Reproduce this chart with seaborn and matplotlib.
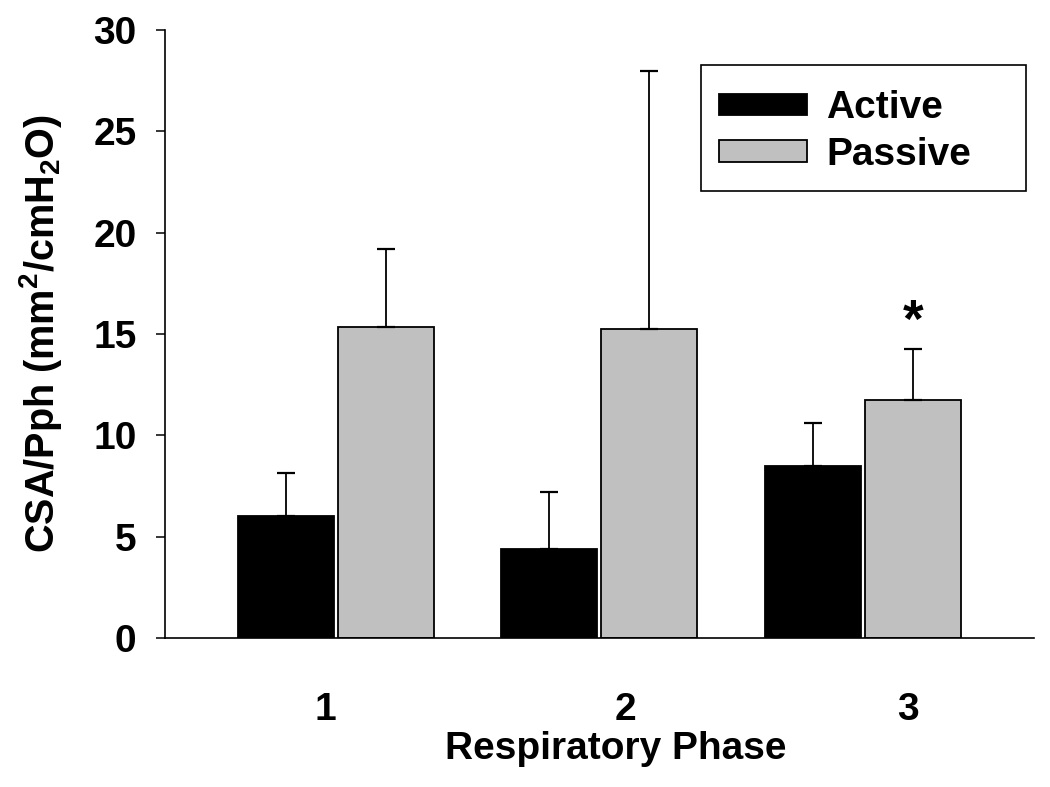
import matplotlib
matplotlib.use("Agg")
import matplotlib.pyplot as plt
import seaborn as sns
import pandas as pd
import numpy as np
from matplotlib.patches import Rectangle

phases = ["1", "2", "3"]
groups = ["Active", "Passive"]
active_mean = [6.03, 4.39, 8.50]
passive_mean = [15.33, 15.25, 11.76]
active_err = [2.13, 2.79, 2.09]
passive_err = [3.86, 12.73, 2.50]
tick_labels = ["1", "2", "3"]
tick_pos = [-0.04, 1.10, 2.17]
star_phase = 2

df = pd.DataFrame({
    "Phase": phases * 2,
    "Group": ["Active"] * 3 + ["Passive"] * 3,
    "Value": active_mean + passive_mean,
})

sns.set_theme(style="ticks")
plt.rcParams["font.family"] = ["Liberation Sans", "DejaVu Sans"]
plt.rcParams["font.weight"] = "bold"
plt.rcParams["mathtext.fontset"] = "custom"
plt.rcParams["mathtext.rm"] = "Liberation Sans:bold"
plt.rcParams["mathtext.default"] = "rm"
for k in ["text.color", "axes.labelcolor", "xtick.color", "ytick.color", "axes.edgecolor"]:
    plt.rcParams[k] = "black"

FS = 28

fig = plt.figure(figsize=(10.5, 7.87), dpi=100)
ax = fig.add_axes([165 / 1050, 1 - 638 / 787, (1034 - 165) / 1050, (638 - 30) / 787])

sns.barplot(data=df, x="Phase", y="Value", hue="Group", order=phases, hue_order=groups,
            palette={"Active": "black", "Passive": "#c0c0c0"},
            edgecolor="black", linewidth=1.3, width=0.76, gap=0.04,
            errorbar=None, ax=ax, legend=True)

errs = {"Active": active_err, "Passive": passive_err}
for cont, g in zip(ax.containers, groups):
    xs = [b.get_x() + b.get_width() / 2 for b in cont]
    hs = [b.get_height() for b in cont]
    e = errs[g]
    ax.errorbar(xs, hs, yerr=[np.zeros(len(e)), e], fmt="none", ecolor="black",
                elinewidth=1.3, capsize=6.5, capthick=1.6, zorder=1)
    if g == "Passive":
        ax.text(xs[star_phase], 15.55, "*", ha="center", va="center", fontsize=38,
                fontweight="bold", color="black")

ax.set_xlim(-0.649, 2.65)
ax.set_ylim(0, 30)
ax.set_yticks([0, 5, 10, 15, 20, 25, 30])
ax.set_xticks(tick_pos)
ax.set_xticklabels(tick_labels)
ax.tick_params(axis="x", length=0, pad=39, labelsize=FS, colors="black")
ax.tick_params(axis="y", length=6.5, width=1.1, pad=14, labelsize=FS, direction="out",
               colors="black")
for lab in ax.get_xticklabels() + ax.get_yticklabels():
    lab.set_fontweight("bold")
for s in ["top", "right"]:
    ax.spines[s].set_visible(False)
for s in ["left", "bottom"]:
    ax.spines[s].set_linewidth(1.2)
    ax.spines[s].set_color("black")

ax.set_xlabel("Respiratory Phase", fontsize=FS, fontweight="bold", labelpad=2, color="black")
ax.xaxis.label.set_x(0.519)
ax.set_ylabel("CSA/Pph (mm$^2$/cmH$_2$O)", fontsize=FS + 0.5, fontweight="bold", labelpad=21,
              color="black")

handles, labels = ax.get_legend_handles_labels()
leg = ax.legend(handles, labels, loc="upper left",
                bbox_to_anchor=(719 / 1050, 1 - 90 / 787), bbox_transform=fig.transFigure,
                frameon=False, fontsize=FS, handlelength=2.26, handleheight=0.46,
                handletextpad=0.5, labelspacing=0.28, borderpad=0, borderaxespad=0)
for t in leg.get_texts():
    t.set_fontweight("bold")
    t.set_color("black")

fig.patches.append(Rectangle((701 / 1050, 1 - 191 / 787), (1026 - 701) / 1050, (191 - 65) / 787,
                             transform=fig.transFigure, fill=False, edgecolor="black",
                             linewidth=1.2, zorder=5))

fig.savefig("out.png", dpi=100, facecolor="white")
